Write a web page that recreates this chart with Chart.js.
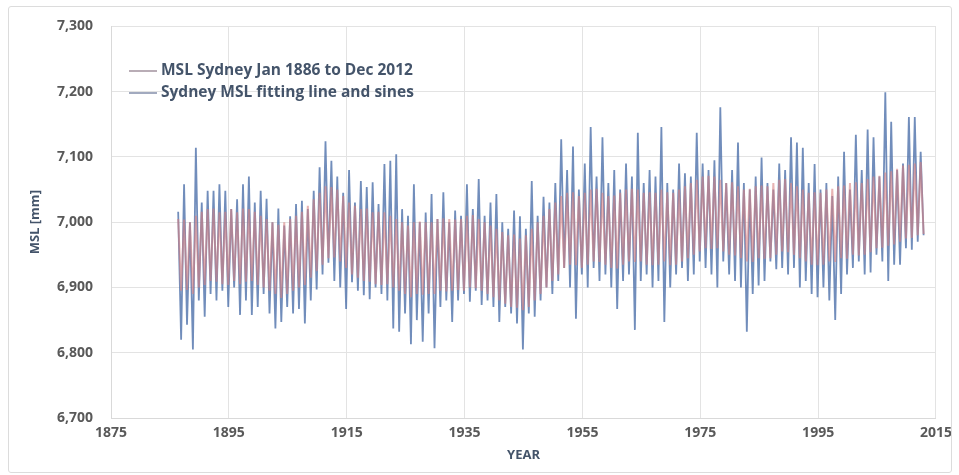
<!DOCTYPE html>
<html>
<head>
<meta charset="utf-8">
<script src="https://cdn.jsdelivr.net/npm/chart.js@4.4.1/dist/chart.umd.min.js"></script>
<style>
  body { margin: 0; background: #fff; }
  #wrap { position: relative; width: 959px; height: 475px; }
  #frame { position: absolute; left: 8px; top: 6px; width: 942px; height: 465px; border: 1px solid #dcdcdc; border-radius: 3px; }
  #legend { position: absolute; left: 129px; top: 59px; font-family: "Open Sans", sans-serif; font-weight: bold; font-size: 15.5px; color: #44546a; }
  #legend div { height: 22px; line-height: 20px; white-space: nowrap; }
  #legend span.ln { display: inline-block; width: 28px; height: 2px; vertical-align: middle; margin-right: 4px; }
</style>
</head>
<body>
<div id="wrap">
  <div id="frame"></div>
  <canvas id="graph" width="959" height="475"></canvas>
  <div id="legend"></div>
</div>
<script>
//years of the record
var years = [
  1886, 1887, 1888, 1889, 1890, 1891, 1892, 1893, 1894, 1895,
  1896, 1897, 1898, 1899, 1900, 1901, 1902, 1903, 1904, 1905,
  1906, 1907, 1908, 1909, 1910, 1911, 1912, 1913, 1914, 1915,
  1916, 1917, 1918, 1919, 1920, 1921, 1922, 1923, 1924, 1925,
  1926, 1927, 1928, 1929, 1930, 1931, 1932, 1933, 1934, 1935,
  1936, 1937, 1938, 1939, 1940, 1941, 1942, 1943, 1944, 1945,
  1946, 1947, 1948, 1949, 1950, 1951, 1952, 1953, 1954, 1955,
  1956, 1957, 1958, 1959, 1960, 1961, 1962, 1963, 1964, 1965,
  1966, 1967, 1968, 1969, 1970, 1971, 1972, 1973, 1974, 1975,
  1976, 1977, 1978, 1979, 1980, 1981, 1982, 1983, 1984, 1985,
  1986, 1987, 1988, 1989, 1990, 1991, 1992, 1993, 1994, 1995,
  1996, 1997, 1998, 1999, 2000, 2001, 2002, 2003, 2004, 2005,
  2006, 2007, 2008, 2009, 2010, 2011, 2012
];

//measured MSL: yearly high (winter) and low (summer) readings [mm]
var msl_high = [
  7016, 7058, 7000, 7114, 7030, 7048, 7048, 7058, 7048, 7020,
  7035, 7058, 7070, 7030, 7048, 7036, 7000, 7021, 6995, 7009,
  7028, 7033, 7020, 7048, 7084, 7124, 7094, 7070, 7045, 7080,
  7030, 7063, 7054, 7061, 7028, 7089, 7094, 7104, 7020, 7010,
  7058, 7000, 7015, 7043, 7005, 7046, 7000, 7018, 7010, 7058,
  7020, 7066, 7010, 7030, 7043, 7000, 6990, 7018, 7009, 6990,
  7063, 7010, 7039, 7030, 7060, 7127, 7080, 7116, 7050, 7090,
  7146, 7070, 7130, 7060, 7080, 7050, 7090, 7070, 7137, 7060,
  7080, 7070, 7146, 7060, 7050, 7090, 7075, 7070, 7137, 7090,
  7080, 7095, 7176, 7060, 7080, 7122, 7060, 7050, 7070, 7099,
  7060, 7050, 7090, 7080, 7130, 7122, 7114, 7060, 7089, 7050,
  7060, 7040, 7070, 7108, 7050, 7134, 7080, 7142, 7130, 7070,
  7199, 7154, 7080, 7090, 7161, 7161, 7108
];
var msl_low = [
  6820, 6843, 6805, 6880, 6855, 6890, 6880, 6895, 6870, 6900,
  6858, 6880, 6858, 6870, 6890, 6860, 6837, 6847, 6870, 6860,
  6867, 6845, 6880, 6897, 6920, 6938, 6910, 6900, 6867, 6908,
  6895, 6888, 6882, 6900, 6890, 6880, 6837, 6832, 6860, 6813,
  6850, 6817, 6860, 6807, 6870, 6880, 6847, 6880, 6890, 6878,
  6895, 6873, 6880, 6870, 6847, 6870, 6860, 6845, 6805, 6860,
  6855, 6880, 6900, 6890, 6910, 6930, 6900, 6852, 6920, 6900,
  6930, 6910, 6920, 6900, 6867, 6910, 6920, 6835, 6910, 6920,
  6900, 6910, 6847, 6900, 6920, 6930, 6910, 6920, 6940, 6930,
  6920, 6900, 6940, 6920, 6910, 6900, 6832, 6890, 6903, 6910,
  6940, 6928, 6930, 6920, 6930, 6900, 6910, 6890, 6885, 6900,
  6880, 6850, 6890, 6920, 6930, 6940, 6920, 6923, 6950, 6940,
  6910, 6935, 6935, 6960, 6958, 6970, 6980
];

//fitting line and sines: yearly crest and trough [mm]
var fit_high = [
  7005, 7004, 7000, 7010, 7016, 7020, 7021, 7015, 7016, 7020,
  7015, 7021, 7020, 7016, 7010, 7005, 7000, 6996, 7000, 7005,
  7010, 7016, 7025, 7035, 7045, 7055, 7054, 7050, 7040, 7030,
  7025, 7020, 7021, 7015, 7016, 7015, 7010, 7005, 7000, 6995,
  7000, 7001, 7000, 7000, 7005, 7006, 7005, 7004, 7005, 7010,
  7011, 7005, 7000, 6995, 6990, 6985, 6980, 6981, 6975, 6980,
  6990, 7000, 7010, 7020, 7030, 7040, 7045, 7046, 7040, 7045,
  7050, 7051, 7045, 7040, 7041, 7045, 7050, 7051, 7050, 7045,
  7046, 7045, 7050, 7046, 7045, 7050, 7055, 7060, 7065, 7070,
  7071, 7070, 7065, 7060, 7061, 7055, 7050, 7051, 7055, 7056,
  7055, 7060, 7065, 7066, 7060, 7055, 7050, 7045, 7046, 7045,
  7050, 7051, 7055, 7056, 7060, 7061, 7060, 7066, 7070, 7071,
  7076, 7078, 7082, 7087, 7088, 7090, 7092
];
var fit_low = [
  6895, 6896, 6890, 6900, 6904, 6910, 6909, 6905, 6904, 6910,
  6905, 6909, 6910, 6904, 6900, 6895, 6890, 6884, 6890, 6895,
  6900, 6904, 6915, 6925, 6935, 6945, 6946, 6940, 6930, 6920,
  6915, 6910, 6909, 6905, 6904, 6905, 6900, 6895, 6890, 6885,
  6890, 6889, 6890, 6890, 6895, 6894, 6895, 6896, 6895, 6900,
  6899, 6895, 6890, 6885, 6880, 6875, 6870, 6869, 6865, 6870,
  6880, 6890, 6900, 6910, 6920, 6930, 6935, 6934, 6930, 6935,
  6940, 6939, 6935, 6930, 6929, 6935, 6940, 6939, 6940, 6935,
  6934, 6935, 6940, 6934, 6935, 6940, 6945, 6950, 6955, 6960,
  6959, 6960, 6955, 6950, 6949, 6945, 6940, 6939, 6945, 6944,
  6945, 6950, 6955, 6954, 6950, 6945, 6940, 6935, 6934, 6935,
  6940, 6939, 6945, 6944, 6950, 6949, 6950, 6954, 6960, 6961,
  6964, 6966, 6970, 6975, 6976, 6980, 6982
];

var series_names = ['MSL Sydney Jan 1886 to Dec 2012', 'Sydney MSL fitting line and sines'];
var series_colors = ['rgba(78, 112, 170, 0.8)', 'rgba(216, 128, 128, 0.6)'];
var legend_colors = ['#b9adb6', '#a2aabf'];

var x_ticks = [1875, 1895, 1915, 1935, 1955, 1975, 1995, 2015];
var y_ticks = [6700, 6800, 6900, 7000, 7100, 7200, 7300];

//turn yearly high/low pairs into points (high mid-year, low at year end)
function make_points(high, low) {
    var pts = [];
    for (const i in years) {
        pts.push({ x: years[i] + 0.4, y: high[i] });
        pts.push({ x: years[i] + 0.9, y: low[i] });
    }
    return pts;
}

var tick_font = { family: '"Open Sans", sans-serif', size: 14, weight: 'bold' };
var title_font = { family: '"Open Sans", sans-serif', size: 13, weight: 'bold' };

const ctx = document.getElementById('graph');

new Chart(ctx, {
    type: 'line',
    data: {
        datasets: [{
            label: series_names[0],
            data: make_points(msl_high, msl_low),
            borderColor: series_colors[0],
            borderWidth: 1.8,
            pointRadius: 0,
            order: 2
        }, {
            label: series_names[1],
            data: make_points(fit_high, fit_low),
            borderColor: series_colors[1],
            borderWidth: 2,
            pointRadius: 0,
            order: 1
        }]
    },
    options: {
        responsive: false,
        animation: false,
        layout: { padding: { top: 20, right: 18, left: 0, bottom: 0 } },
        plugins: {
            legend: { display: false },
            tooltip: { enabled: false }
        },
        scales: {
            x: {
                type: 'linear',
                min: x_ticks[0],
                max: x_ticks[x_ticks.length - 1],
                afterFit: function (scale) { scale.height = 57; },
                afterBuildTicks: function (scale) {
                    scale.ticks = x_ticks.map(function (v) { return { value: v }; });
                },
                ticks: {
                    color: '#595959',
                    font: tick_font,
                    padding: 7,
                    callback: function (v) { return String(v); }
                },
                grid: { color: '#e3e3e3', drawTicks: false },
                border: { color: '#d9d9d9' },
                title: {
                    display: true,
                    text: 'YEAR',
                    color: '#44546a',
                    font: title_font,
                    padding: { top: 0, bottom: 12 }
                }
            },
            y: {
                min: y_ticks[0],
                max: y_ticks[y_ticks.length - 1],
                afterFit: function (scale) { scale.width = 111; },
                afterBuildTicks: function (scale) {
                    scale.ticks = y_ticks.map(function (v) { return { value: v }; });
                },
                ticks: {
                    color: '#595959',
                    font: tick_font,
                    padding: 18,
                    callback: function (v) { return v.toLocaleString('en-US'); }
                },
                grid: { color: '#e3e3e3', drawTicks: false },
                border: { color: '#d9d9d9' },
                title: {
                    display: true,
                    text: 'MSL [mm]',
                    color: '#44546a',
                    font: title_font,
                    padding: { top: 27, bottom: 0 }
                }
            }
        }
    }
});

//legend drawn as html, top left inside the plot
var legend = document.getElementById('legend');
for (const i in series_names) {
    var row = "<div><span class='ln' style='background:" + legend_colors[i] + "'></span>" + series_names[i] + "</div>";
    legend.innerHTML += row;
}
</script>
</body>
</html>
